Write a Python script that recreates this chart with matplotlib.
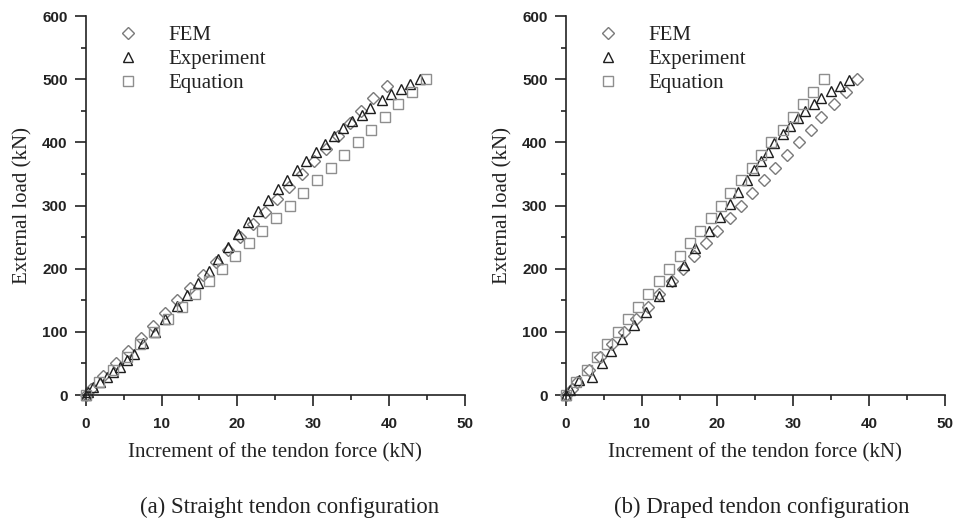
import matplotlib
matplotlib.use("Agg")
import matplotlib.pyplot as plt
from matplotlib.ticker import MultipleLocator

# ---- data ----
# (a) straight tendon
a_fem_x = [0, 0.7, 2.3, 4.0, 5.6, 7.3, 8.9, 10.5, 12.1, 13.8, 15.5, 17.2, 18.8, 20.3,
           22.0, 23.6, 25.2, 26.8, 28.5, 30.1, 31.7, 33.3, 34.8, 36.3, 37.9, 39.7]
a_fem_y = [0, 10, 30, 50, 70, 90, 110, 130, 150, 170, 190, 210, 230, 250,
           270, 290, 310, 330, 350, 370, 390, 410, 430, 450, 470, 490]
a_exp_x = [0, 0.35, 1.0, 1.9, 2.8, 3.6, 4.5, 5.4, 6.4, 7.6, 9.1, 10.5, 12.0, 13.3,
           14.8, 16.2, 17.4, 18.8, 20.1, 21.4, 22.7, 24.0, 25.3, 26.5, 27.8, 29.0,
           30.3, 31.5, 32.7, 33.9, 35.1, 36.4, 37.5, 39.1, 40.3, 41.6, 42.8, 44.1]
a_exp_y = [0, 4, 12, 20, 29, 37, 45, 55, 65, 82, 100, 120, 141, 159,
           178, 196, 216, 235, 255, 274, 292, 308, 326, 340, 357, 371,
           385, 397, 410, 423, 434, 444, 455, 467, 476, 485, 493, 501]
a_eq_x = [0, 1.8, 3.6, 5.4, 7.2, 9.0, 10.8, 12.7, 14.4, 16.3, 18.0, 19.7, 21.5,
          23.3, 25.1, 26.9, 28.7, 30.5, 32.3, 34.0, 35.9, 37.6, 39.4, 41.2, 43.0, 44.9]
a_eq_y = [0, 20, 40, 60, 80, 100, 120, 140, 160, 180, 200, 220, 240,
          260, 280, 300, 320, 340, 360, 380, 400, 420, 440, 460, 480, 500]

# (b) draped tendon
b_fem_x = [0, 0.8, 1.5, 3.0, 4.5, 6.1, 7.7, 9.2, 10.8, 12.3, 14.0, 15.4, 16.9, 18.5,
           20.0, 21.6, 23.1, 24.6, 26.1, 27.6, 29.1, 30.7, 32.3, 33.7, 35.3, 36.9, 38.4]
b_fem_y = [0, 10, 20, 40, 60, 80, 100, 120, 140, 160, 180, 200, 220, 240,
           260, 280, 300, 320, 340, 360, 380, 400, 420, 440, 460, 480, 500]
b_exp_x = [0, 0.6, 1.8, 3.4, 4.8, 5.9, 7.4, 9.0, 10.6, 12.3, 13.9, 15.6, 17.1, 18.9,
           20.3, 21.7, 22.7, 23.9, 24.8, 25.7, 26.7, 27.5, 28.6, 29.6, 30.6, 31.6,
           32.7, 33.7, 34.9, 36.1, 37.3]
b_exp_y = [0, 8, 23, 29, 50, 69, 88, 111, 132, 157, 180, 206, 232, 259,
           282, 303, 321, 340, 356, 370, 385, 399, 413, 426, 438, 450,
           461, 471, 481, 489, 499]
b_eq_x = [0, 1.4, 2.8, 4.1, 5.5, 6.9, 8.2, 9.5, 10.9, 12.3, 13.6, 15.0, 16.4,
          17.7, 19.1, 20.4, 21.7, 23.1, 24.5, 25.7, 27.1, 28.6, 29.9, 31.3, 32.6, 34.0]
b_eq_y = [0, 20, 40, 60, 80, 100, 120, 140, 160, 180, 200, 220, 240,
          260, 280, 300, 320, 340, 360, 380, 400, 420, 440, 460, 480, 500]

series_labels = ["FEM", "Experiment", "Equation"]
captions = ["(a) Straight tendon configuration", "(b) Draped tendon configuration"]

serif = ["Liberation Serif", "DejaVu Serif"]
sans = ["Liberation Sans", "DejaVu Sans"]
ink = "#222222"

fig = plt.figure(figsize=(9.55, 5.21), dpi=100)
ax_a = fig.add_axes([0.0897, 0.2418, 0.3972, 0.7274])
ax_b = fig.add_axes([0.5924, 0.2418, 0.3972, 0.7274])

styles = [
    dict(marker="D", ms=6.2, mec="#7a7a7a"),
    dict(marker="^", ms=6.5, mec="#1e1e1e"),
    dict(marker="s", ms=7.8, mec="#8e8e8e"),
]

panels = [
    (ax_a, [(a_fem_x, a_fem_y), (a_exp_x, a_exp_y), (a_eq_x, a_eq_y)]),
    (ax_b, [(b_fem_x, b_fem_y), (b_exp_x, b_exp_y), (b_eq_x, b_eq_y)]),
]

for ax, sets in panels:
    for (xs, ys), st, lab in zip(sets, styles, series_labels):
        ax.plot(xs, ys, linestyle="none", marker=st["marker"], ms=st["ms"],
                mfc="none", mec=st["mec"], mew=1.0, label=lab, clip_on=False)
    ax.set_xlim(0, 50)
    ax.set_ylim(0, 600)
    ax.xaxis.set_major_locator(MultipleLocator(10))
    ax.xaxis.set_minor_locator(MultipleLocator(5))
    ax.yaxis.set_major_locator(MultipleLocator(100))
    ax.yaxis.set_minor_locator(MultipleLocator(50))
    for s in ["top", "right"]:
        ax.spines[s].set_visible(False)
    for s in ["left", "bottom"]:
        ax.spines[s].set_linewidth(1.2)
        ax.spines[s].set_color(ink)
    ax.tick_params(which="major", direction="out", length=8, width=1.2, color=ink)
    ax.tick_params(which="minor", direction="out", length=3.8, width=1.2, color=ink)
    ax.tick_params(axis="x", which="major", pad=7.5)
    ax.tick_params(axis="y", which="major", pad=5)
    for lbl in ax.get_xticklabels() + ax.get_yticklabels():
        lbl.set_family(sans)
        lbl.set_fontweight("bold")
        lbl.set_fontsize(11)
        lbl.set_color(ink)
    ax.set_xlabel("Increment of the tendon force (kN)", family=serif, fontsize=15,
                  color=ink, labelpad=9)
    ax.set_ylabel("External load (kN)", family=serif, fontsize=15,
                  color=ink, labelpad=7)
    leg = ax.legend(loc="upper left", bbox_to_anchor=(0.034, 0.997), borderaxespad=0,
                    frameon=False, prop={"family": serif, "size": 15},
                    handletextpad=0.97, labelspacing=0.22, markerscale=1.0)
    for t in leg.get_texts():
        t.set_color(ink)

fig.text(0.3037, 0.027, captions[0], family=serif, fontsize=16.4, ha="center",
         va="center", color=ink)
fig.text(0.798, 0.027, captions[1], family=serif, fontsize=16.4, ha="center",
         va="center", color=ink)

fig.savefig("out.png", dpi=100)
